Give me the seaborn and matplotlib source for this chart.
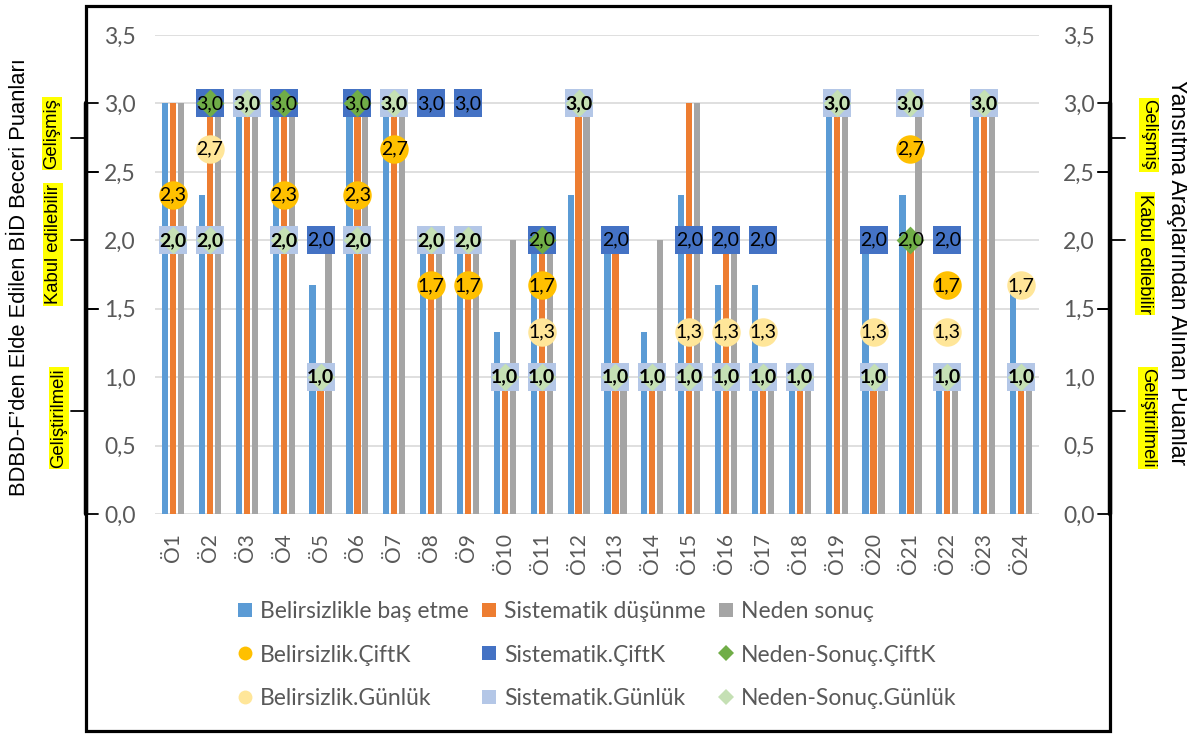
import numpy as np
import pandas as pd
import matplotlib
matplotlib.use("Agg")
import matplotlib.pyplot as plt
import seaborn as sns
from matplotlib.lines import Line2D
from matplotlib.patches import Rectangle
from matplotlib.transforms import blended_transform_factory
from matplotlib.ticker import FuncFormatter, FixedLocator

nan = np.nan

# ---------------- data ----------------
students = ["Ö1", "Ö2", "Ö3", "Ö4", "Ö5", "Ö6", "Ö7", "Ö8", "Ö9", "Ö10", "Ö11", "Ö12",
            "Ö13", "Ö14", "Ö15", "Ö16", "Ö17", "Ö18", "Ö19", "Ö20", "Ö21", "Ö22", "Ö23", "Ö24"]

bar_names = ["Belirsizlikle baş etme", "Sistematik düşünme", "Neden sonuç"]
belirsizlik = [3, 2.33, 3, 3, 1.67, 3, 3, 2, 2, 1.33, 2, 2.33, 2, 1.33, 2.33, 1.67, 1.67, 1, 3, 2, 2.33, 1, 3, 1.67]
sistematik = [3, 3, 3, 3, 1, 3, 3, 2, 2, 1, 2, 3, 2, 1, 3, 2, 1, 1, 3, 1, 2, 1, 3, 1]
neden_sonuc = [3, 3, 3, 3, 2, 3, 3, 2, 2, 2, 2, 3, 1, 2, 3, 2, 1, 1, 3, 1, 3, 1, 3, 1]

marker_names = ["Belirsizlik.ÇiftK", "Sistematik.ÇiftK", "Neden-Sonuç.ÇiftK",
                "Belirsizlik.Günlük", "Sistematik.Günlük", "Neden-Sonuç.Günlük"]
bel_ciftk = [2.33, nan, nan, 2.33, nan, 2.33, 2.67, 1.67, 1.67, nan, 1.67, nan,
             nan, nan, nan, nan, nan, nan, nan, nan, 2.67, 1.67, nan, nan]
sis_ciftk = [nan, 3, nan, 3, 2, 3, nan, 3, 3, nan, 2, nan,
             2, nan, 2, 2, 2, nan, nan, 2, nan, 2, nan, nan]
nds_ciftk = [nan, 3, nan, 3, nan, 3, nan, nan, nan, nan, 2, nan,
             nan, nan, nan, nan, nan, nan, nan, nan, 2, nan, nan, nan]
bel_gunluk = [nan, 2.67, nan, nan, nan, nan, nan, nan, nan, nan, 1.33, nan,
              nan, nan, 1.33, 1.33, 1.33, nan, nan, 1.33, nan, 1.33, nan, 1.67]
sis_gunluk = [2, 2, 3, 2, 1, 2, 3, 2, 2, 1, 1, 3, 1, 1, 1, 1, 1, 1, 3, 1, 3, 1, 3, 1]
nds_gunluk = [2, 2, 3, 2, 1, 2, 3, 2, 2, 1, 1, 3, 1, 1, 1, 1, 1, 1, 3, 1, 3, 1, 3, 1]

y_ticks = [0.0, 0.5, 1.0, 1.5, 2.0, 2.5, 3.0, 3.5]

# ---------------- styles ----------------
bar_colors = ["#5B9BD5", "#ED7D31", "#A5A5A5"]
marker_styles = [
    ("o", "#FFC000", 420, False),
    ("s", "#4472C4", 420, False),
    ("D", "#70AD47", 200, False),
    ("o", "#FFE699", 420, False),
    ("s", "#B4C7E7", 420, False),
    ("D", "#C5E0B4", 200, True),
]
GRAY = "#595959"

sns.set_theme(style="white")
plt.rcParams["font.family"] = ["Lato", "DejaVu Sans"]

W, H = 1187, 734
fig = plt.figure(figsize=(W / 100, H / 100), dpi=100)
ax_l, ax_r, ax_t, ax_b = 154.6, 1039.5, 35.0, 514.0
ax = fig.add_axes([ax_l / W, 1 - ax_b / H, (ax_r - ax_l) / W, (ax_b - ax_t) / H])

df = pd.DataFrame({
    "Öğrenci": students * 3,
    "Puan": belirsizlik + sistematik + neden_sonuc,
    "Beceri": [bar_names[0]] * 24 + [bar_names[1]] * 24 + [bar_names[2]] * 24,
})
sns.barplot(data=df, x="Öğrenci", y="Puan", hue="Beceri", order=students,
            hue_order=bar_names, palette=bar_colors, width=0.65, gap=0.22,
            saturation=1, errorbar=None, legend=False, linewidth=0, ax=ax, zorder=2)

pos = np.arange(len(students))
series = [bel_ciftk, sis_ciftk, nds_ciftk, bel_gunluk, sis_gunluk, nds_gunluk]
labels = {}
for vals, (mk, col, size, bold) in zip(series, marker_styles):
    sns.scatterplot(x=pos, y=vals, marker=mk, s=size, color=col, linewidth=0,
                    ax=ax, zorder=3, legend=False)
    for i, v in enumerate(vals):
        if not np.isnan(v):
            labels[(i, round(v, 2))] = bold

for (i, v), bold in labels.items():
    ax.text(i, v, f"{v:.1f}".replace(".", ","), ha="center", va="center",
            fontsize=14, color="black", fontweight="bold" if bold else "normal", zorder=6)

fmt = FuncFormatter(lambda v, p: f"{v:.1f}".replace(".", ","))
ax.set_xlim(-0.5, len(students) - 0.5)
ax.set_ylim(0, 3.5)
ax.yaxis.set_major_locator(FixedLocator(y_ticks))
ax.yaxis.set_major_formatter(fmt)
ax.yaxis.grid(True, color="#D9D9D9", lw=1.2)
ax.xaxis.grid(False)
ax.set_axisbelow(True)
ax.set_xlabel("")
ax.set_ylabel("")
for s in ax.spines.values():
    s.set_visible(False)
ax.tick_params(axis="y", length=0, pad=13.5, labelsize=16.5, labelcolor=GRAY)
ax.tick_params(axis="x", length=0, pad=14, labelsize=15, labelcolor=GRAY, rotation=90)

ax2 = ax.twinx()
ax2.set_ylim(0, 3.5)
ax2.yaxis.set_major_locator(FixedLocator(y_ticks))
ax2.yaxis.set_major_formatter(fmt)
ax2.grid(False)
for s in ax2.spines.values():
    s.set_visible(False)
ax2.tick_params(axis="y", length=0, pad=17, labelsize=16.5, labelcolor=GRAY)

# ---------------- border, braces and side labels ----------------
fig.add_artist(Rectangle((86 / W, 1 - 731 / H), (1110 - 86) / W, (731 - 6) / H,
                         transform=fig.transFigure, fill=False, edgecolor="black", lw=2.3))

tr = blended_transform_factory(fig.transFigure, ax.transData)

def hl(x0, x1, y, lw=1.3):
    fig.add_artist(Line2D([x0 / W, x1 / W], [y, y], transform=tr, color="black", lw=lw))

def vl(x, y0, y1, lw=1.3):
    fig.add_artist(Line2D([x / W, x / W], [y0, y1], transform=tr, color="black", lw=lw))

ranges = [(2.5, 3.0), (1.5, 2.5), (0.0, 1.5)]
# left braces
vl(86, 0.0, 3.0, lw=3.2)
for a, b in ranges:
    hl(86, 98, a)
    hl(86, 98, b)
    hl(71, 86, (a + b) / 2)
# right braces
vl(1110, 0.0, 3.0, lw=3.2)
for a, b in ranges:
    hl(1098, 1110, a)
    hl(1098, 1110, b)
    hl(1110, 1125, (a + b) / 2)

side_font = ["Liberation Sans", "DejaVu Sans"]
fig.text(20 / W, 1 - 277 / H, "BDBD-F’den Elde Edilen BİD Beceri Puanları", rotation=90,
         ha="center", va="center", fontsize=15.8, family=side_font, color="black")
fig.text(1177 / W, 1 - 272 / H, "Yansıtma Araçlarından Alınan Puanlar", rotation=270,
         ha="center", va="center", fontsize=16.6, family=side_font, color="black")

level_names = ["Gelişmiş", "Kabul edilebilir", "Geliştirilmeli"]
left_pos = [(52, 2.78), (53, 1.97), (59, 0.70)]
right_pos = [(1149, 2.77), (1145, 1.90), (1148, 0.70)]
ybox = dict(facecolor="#FFFF00", edgecolor="none", pad=1.0)
for name, (x, y) in zip(level_names, left_pos):
    fig.text(x / W, y, name, transform=tr, rotation=90, ha="center", va="center",
             fontsize=13.3, family=side_font, color="black", bbox=ybox)
for name, (x, y) in zip(level_names, right_pos):
    fig.text(x / W, y, name, transform=tr, rotation=270, ha="center", va="center",
             fontsize=13.3, family=side_font, color="black", bbox=ybox)

# ---------------- legend ----------------
def h(mk, col, ms):
    return Line2D([], [], marker=mk, ls="none", color=col, markersize=ms, markeredgewidth=0)

bar_handles = [h("s", c, 10) for c in bar_colors]
mk_handles = [h(m, c, 10 if m != "D" else 8) for (m, c, _, _) in marker_styles]
handles = [bar_handles[0], mk_handles[0], mk_handles[3],
           bar_handles[1], mk_handles[1], mk_handles[4],
           bar_handles[2], mk_handles[2], mk_handles[5]]
names = [bar_names[0], marker_names[0], marker_names[3],
         bar_names[1], marker_names[1], marker_names[4],
         bar_names[2], marker_names[2], marker_names[5]]
fig.legend(handles, names, ncol=3, loc="center", bbox_to_anchor=(596 / W, 1 - 655 / H),
           frameon=False, fontsize=16.5, labelcolor=GRAY, handletextpad=0.25,
           columnspacing=0.5, labelspacing=1.0, handlelength=0.8)

fig.savefig("out.png", dpi=100)
